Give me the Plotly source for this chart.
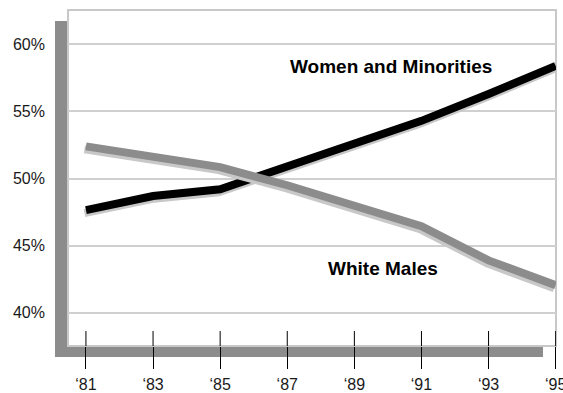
import plotly.graph_objects as go

# Share of workforce by group, 1981-1995
years = [1981, 1983, 1985, 1987, 1989, 1991, 1993, 1995]
year_labels = ["‘81", "‘83", "‘85", "‘87", "‘89", "‘91", "‘93", "‘95"]
women_minorities = [47.65, 48.7, 49.2, 50.9, 52.6, 54.3, 56.3, 58.4]
white_males = [52.4, 51.6, 50.85, 49.5, 48.0, 46.45, 43.9, 42.05]
pct_ticks = [40, 45, 50, 55, 60]
pct_labels = ["40%", "45%", "50%", "55%", "60%"]

W, H = 563, 393
ML, MR, MT, MB = 68, 7, 10, 47
PW, PH = W - ML - MR, H - MT - MB
XR = [1980.465, 1995.01]
YR = [37.52, 62.56]

# drop shadow offsets (pixels -> data units)
px_x = PW / (XR[1] - XR[0])
px_y = PH / (YR[1] - YR[0])
sdx, sdy = -1.5 / px_x, -3.0 / px_y

SHADOW = "#c8c8c8"
LINE_W = 8

fig = go.Figure()


def add_series(y, color):
    fig.add_trace(go.Scatter(
        x=[v + sdx for v in years], y=[v + sdy for v in y], mode="lines",
        line=dict(color=SHADOW, width=LINE_W), hoverinfo="skip", showlegend=False))
    fig.add_trace(go.Scatter(
        x=years, y=y, mode="lines",
        line=dict(color=color, width=LINE_W), showlegend=False))


add_series(women_minorities, "#000000")
add_series(white_males, "#8c8c8c")

# framed panel with offset dark shadow
ox, oy = -13 / PW, -11 / PH
shapes = [
    dict(type="rect", xref="paper", yref="paper", x0=ox, x1=1 + ox, y0=oy, y1=1 + oy,
         fillcolor="#8c8c8c", line=dict(width=0), layer="below"),
    dict(type="rect", xref="paper", yref="paper", x0=0, x1=1, y0=0, y1=1,
         fillcolor="#ffffff", line=dict(color="#c8c8c8", width=2), layer="below"),
]
# inner part of the year tick marks
for yr in years:
    shapes.append(dict(type="line", xref="x", yref="paper", x0=yr, x1=yr,
                       y0=0, y1=15 / PH, line=dict(color="#000000", width=1),
                       layer="above"))

label_font = dict(family="Liberation Sans, Arial", size=19, color="#000000")
annotations = [
    dict(text="<b>Women and Minorities</b>", xref="paper", yref="paper",
         x=(391 - ML) / PW, y=(H - MB - 67) / PH, xanchor="center", yanchor="middle",
         showarrow=False, font=label_font),
    dict(text="<b>White Males</b>", xref="paper", yref="paper",
         x=(383 - ML) / PW, y=(H - MB - 268) / PH, xanchor="center", yanchor="middle",
         showarrow=False, font=label_font),
]

fig.update_layout(
    width=W, height=H,
    margin=dict(l=ML, r=MR, t=MT, b=MB, pad=0, autoexpand=False),
    paper_bgcolor="#ffffff",
    plot_bgcolor="rgba(0,0,0,0)",
    shapes=shapes,
    annotations=annotations,
    font=dict(family="Liberation Sans, Arial", size=16, color="#1a1a1a"),
    xaxis=dict(range=XR, tickvals=years, ticktext=year_labels, showgrid=False,
               zeroline=False, showline=False, ticks="outside", ticklen=22,
               tickwidth=1, tickcolor="#000000", ticklabelstandoff=2,
               ticklabeloverflow="allow", automargin=False, fixedrange=True),
    yaxis=dict(range=YR, tickvals=pct_ticks, ticktext=pct_labels, showgrid=True,
               gridcolor="#d0d0d0", gridwidth=1.5, zeroline=False, showline=False,
               ticks="", ticklabelstandoff=22, automargin=False, fixedrange=True),
)

fig.write_html("out.html")
